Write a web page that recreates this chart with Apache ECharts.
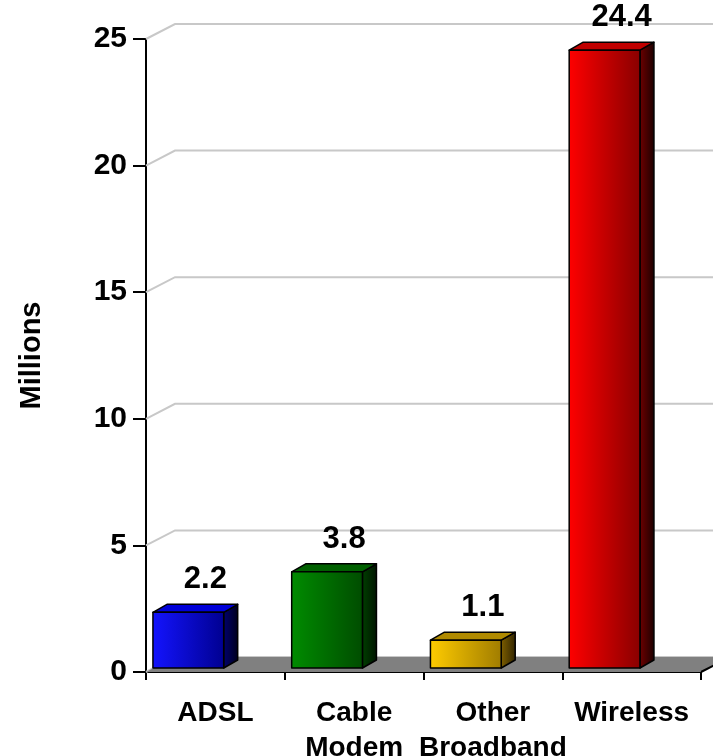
<!DOCTYPE html>
<html>
<head>
<meta charset="utf-8">
<script src="https://cdn.jsdelivr.net/npm/echarts@6/dist/echarts.min.js"></script>
<style>
html,body{margin:0;padding:0;background:#fff;}
#chart{width:713px;height:756px;}
</style>
</head>
<body>
<div id="chart"></div>
<script>
// ---- data ----
const categories = ['ADSL', 'Cable\nModem', 'Other\nBroadband', 'Wireless'];
const values = [2.2, 3.8, 1.1, 24.4];
const yTicks = [0, 5, 10, 15, 20, 25];
const yTitle = 'Millions';

// ---- style ----
const FONT = '"Liberation Sans", Arial, sans-serif';
const palette = [
  {front: ['#1414ff', '#000090'], side: ['#000070', '#00001a'], top: '#0000d8'},
  {front: ['#008c00', '#004c00'], side: ['#004000', '#001400'], top: '#006000'},
  {front: ['#ffcc00', '#a07c00'], side: ['#806000', '#302400'], top: '#b08a00'},
  {front: ['#ff0000', '#880000'], side: ['#700000', '#1a0000'], top: '#c00000'}
];
const WALL_DX = 29, WALL_DY = -15;
const BAR_DX = 14, BAR_DY = -8;

const chart = echarts.init(document.getElementById('chart'));
const G = echarts.graphic;

function gridRender(params, api) {
  const cs = params.coordSys;
  const y = api.coord([0, api.value(0)])[1];
  return {
    type: 'polyline',
    shape: {points: [[cs.x, y], [cs.x + WALL_DX, y + WALL_DY], [cs.x + cs.width + 40, y + WALL_DY]]},
    style: {stroke: '#c8c8c8', lineWidth: 2, fill: null},
    z2: 0
  };
}

function floorRender(params, api) {
  const cs = params.coordSys;
  const y0 = api.coord([0, 0])[1];
  const x0 = cs.x, x1 = cs.x + cs.width;
  return {
    type: 'group',
    children: [
      {type: 'polygon',
       shape: {points: [[x0, y0], [x1, y0], [x1 + WALL_DX, y0 + WALL_DY], [x0 + WALL_DX, y0 + WALL_DY]]},
       style: {fill: '#808080', stroke: null}},
      {type: 'polyline',
       shape: {points: [[x1, y0], [x1 + WALL_DX, y0 + WALL_DY]]},
       style: {stroke: '#000', lineWidth: 2, fill: null}}
    ]
  };
}

function barRender(params, api) {
  const i = api.value(0), v = api.value(1);
  const band = api.size([1, 0])[0];
  const base = api.coord([i, 0]);
  const topPt = api.coord([i, v]);
  const shift = -4;
  const x = base[0] - band / 2 + band * 0.05;
  const w = band * 0.51;
  const yb = base[1] + shift;
  const yt = topPt[1] + shift;
  const p = palette[i];
  const stroke = {stroke: '#000', lineWidth: 1.5, lineJoin: 'round'};
  return {
    type: 'group',
    children: [
      {type: 'polygon',
       shape: {points: [[x + w, yb], [x + w + BAR_DX, yb + BAR_DY], [x + w + BAR_DX, yt + BAR_DY], [x + w, yt]]},
       style: Object.assign({fill: new G.LinearGradient(0, 0, 1, 0, [{offset: 0, color: p.side[0]}, {offset: 1, color: p.side[1]}])}, stroke)},
      {type: 'polygon',
       shape: {points: [[x, yt], [x + w, yt], [x + w + BAR_DX, yt + BAR_DY], [x + BAR_DX, yt + BAR_DY]]},
       style: Object.assign({fill: p.top}, stroke)},
      {type: 'rect',
       shape: {x: x, y: yt, width: w, height: yb - yt},
       style: Object.assign({fill: new G.LinearGradient(0, 0, 1, 0, [{offset: 0, color: p.front[0]}, {offset: 1, color: p.front[1]}])}, stroke)},
      {type: 'text',
       style: {text: String(v), x: x + (w + BAR_DX) / 2 + 10, y: yt + BAR_DY - 9,
               align: 'center', verticalAlign: 'bottom',
               font: 'bold 31px ' + FONT, fill: '#000'}}
    ]
  };
}

const option = {
  animation: false,
  backgroundColor: '#ffffff',
  grid: {left: 146, right: 12, top: 39, bottom: 84, containLabel: false, outerBoundsMode: 'none'},
  xAxis: {
    type: 'category',
    data: categories,
    boundaryGap: true,
    axisLine: {lineStyle: {color: '#000', width: 2}},
    axisTick: {show: true, length: 8, lineStyle: {color: '#000', width: 2}},
    axisLabel: {color: '#000', fontFamily: FONT, fontWeight: 'bold', fontSize: 28, lineHeight: 35, margin: 24, interval: 0},
    splitLine: {show: false}
  },
  yAxis: {
    type: 'value',
    min: 0, max: 25, interval: 5,
    name: yTitle,
    nameLocation: 'middle',
    nameRotate: 90,
    nameGap: 100,
    nameTextStyle: {color: '#000', fontFamily: FONT, fontWeight: 'bold', fontSize: 29},
    axisLine: {show: true, lineStyle: {color: '#000', width: 2}},
    axisTick: {show: true, length: 13, lineStyle: {color: '#000', width: 2}},
    axisLabel: {color: '#000', fontFamily: FONT, fontWeight: 'bold', fontSize: 30, margin: 19},
    splitLine: {show: false}
  },
  series: [
    {type: 'custom', z: 1, data: yTicks.map(t => [t]), renderItem: gridRender, silent: true, clip: false},
    {type: 'custom', z: 2, data: [[0]], renderItem: floorRender, silent: true, clip: false},
    {type: 'custom', z: 3, data: values.map((v, i) => [i, v]), renderItem: barRender, silent: true, clip: false}
  ]
};
chart.setOption(option);
</script>
</body>
</html>
